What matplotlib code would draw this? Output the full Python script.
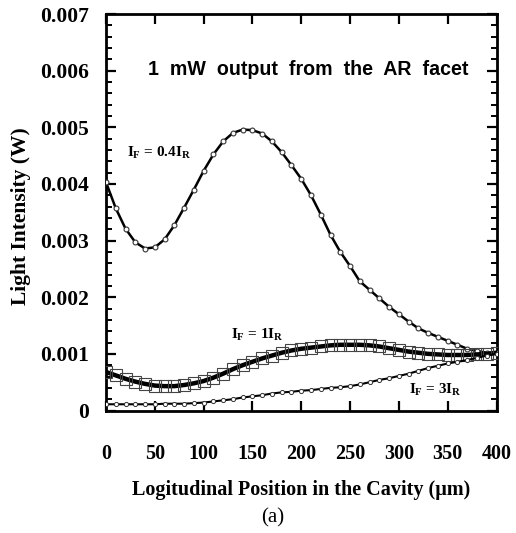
import matplotlib
matplotlib.use("Agg")
import matplotlib.pyplot as plt
from matplotlib.ticker import MultipleLocator

# ---- data ----
position = list(range(0, 401, 10))  # µm

intensity_04 = [0.00403, 0.00357, 0.00321, 0.00297, 0.00286, 0.00288, 0.00302, 0.00327,
                0.00358, 0.00390, 0.00423, 0.00452, 0.00475, 0.00490, 0.00496, 0.00495,
                0.00489, 0.00475, 0.00456, 0.00433, 0.00409, 0.00380, 0.00346, 0.00310,
                0.00280, 0.00255, 0.00228, 0.00213, 0.00198, 0.00183, 0.00170, 0.00157,
                0.00145, 0.00137, 0.00130, 0.00123, 0.00116, 0.00109, 0.00105, 0.00102,
                0.00101]

intensity_1 = [0.00068, 0.00062, 0.00056, 0.00051, 0.00047, 0.00044, 0.00043, 0.00043,
               0.00045, 0.00048, 0.00052, 0.00058, 0.00065, 0.00073, 0.00080, 0.00086,
               0.00092, 0.00097, 0.00102, 0.00106, 0.00109, 0.00111, 0.00113, 0.00115,
               0.00116, 0.00116, 0.00116, 0.00115, 0.00113, 0.00110, 0.00107, 0.00104,
               0.00102, 0.00100, 0.00099, 0.00098, 0.00098, 0.00098, 0.00099, 0.00100,
               0.00102]

intensity_3 = [0.00011, 0.00011, 0.00011, 0.00011, 0.00011, 0.00011, 0.00012, 0.00012,
               0.00012, 0.00013, 0.00014, 0.00016, 0.00018, 0.00020, 0.00023, 0.00025,
               0.00027, 0.00030, 0.00032, 0.00033, 0.00035, 0.00036, 0.00038, 0.00040,
               0.00041, 0.00043, 0.00046, 0.00050, 0.00054, 0.00057, 0.00061, 0.00065,
               0.00070, 0.00075, 0.00079, 0.00083, 0.00086, 0.00089, 0.00093, 0.00097,
               0.00100]

x_ticks = [0, 50, 100, 150, 200, 250, 300, 350, 400]
y_ticks = [0, 0.001, 0.002, 0.003, 0.004, 0.005, 0.006, 0.007]
y_tick_labels = ["0", "0.001", "0.002", "0.003", "0.004", "0.005", "0.006", "0.007"]

title_text = "1  mW  output  from  the  AR  facet"
xlabel_text = "Logitudinal Position in the Cavity (\u03bcm)"
ylabel_text = "Light Intensity (W)"

plt.rcParams["mathtext.fontset"] = "custom"
plt.rcParams["mathtext.rm"] = "Liberation Serif:bold"
plt.rcParams["mathtext.it"] = "Liberation Serif:bold"
plt.rcParams["mathtext.bf"] = "Liberation Serif:bold"

fig = plt.figure(figsize=(5.16, 5.33), dpi=100)
ax = fig.add_axes([106 / 516, 1 - 410.5 / 533, (496.5 - 106) / 516, (410.5 - 14) / 533])

ax.plot(position, intensity_04, color="black", lw=1.8, marker="o", ms=3.5,
        mfc="white", mec="#333333", mew=0.8, zorder=3)
ax.plot(position, intensity_1, color="black", lw=3.2, marker="s", ms=8,
        mfc="none", mec="#444444", mew=0.8, zorder=3)
ax.plot(position, intensity_3, color="black", lw=1.5, marker="o", ms=3,
        mfc="white", mec="#333333", mew=0.7, zorder=3)

ax.set_xlim(0, 400)
ax.set_ylim(0, 0.007)
ax.set_xticks(x_ticks)
ax.set_yticks(y_ticks)
ax.set_yticklabels(y_tick_labels)
ax.yaxis.set_minor_locator(MultipleLocator(0.0002))

serif = "Liberation Serif"
for lab in ax.get_xticklabels():
    lab.set_fontfamily(serif)
    lab.set_fontweight("bold")
    lab.set_fontsize(14.5)
for lab in ax.get_yticklabels():
    lab.set_fontfamily(serif)
    lab.set_fontweight("bold")
    lab.set_fontsize(15.5)

ax.tick_params(axis="both", which="both", direction="in", top=True, right=True)
ax.tick_params(axis="both", which="major", length=7, width=1.6)
ax.tick_params(axis="both", which="minor", length=4, width=1.4)
ax.tick_params(axis="x", which="major", pad=24)
ax.tick_params(axis="y", which="major", pad=12)

for sp in ax.spines.values():
    sp.set_linewidth(2)

ax.set_xlabel(xlabel_text, fontfamily=serif, fontweight="bold", fontsize=14.5, labelpad=12)
ax.set_ylabel(ylabel_text, fontfamily=serif, fontweight="bold", fontsize=15.5)
ax.yaxis.set_label_coords(-0.192, 0.49)

ax.text(43, 0.00602, title_text, fontfamily="Liberation Sans", fontweight="bold",
        fontsize=14.1, ha="left", va="center")

ax.text(22, 0.00455, r"$I_F$ = 0.4$I_R$", fontfamily=serif, fontweight="bold",
        fontsize=11, ha="left", va="center")
ax.text(128, 0.00134, r"$I_F$ = 1$I_R$", fontfamily=serif, fontweight="bold",
        fontsize=11, ha="left", va="center")
ax.text(310, 0.00036, r"$I_F$ = 3$I_R$", fontfamily=serif, fontweight="bold",
        fontsize=11, ha="left", va="center")

fig.text(273 / 516, 1 - 518 / 533, "(a)", fontfamily=serif, fontsize=15,
         ha="center", va="center")

fig.savefig("out.png", dpi=100)
